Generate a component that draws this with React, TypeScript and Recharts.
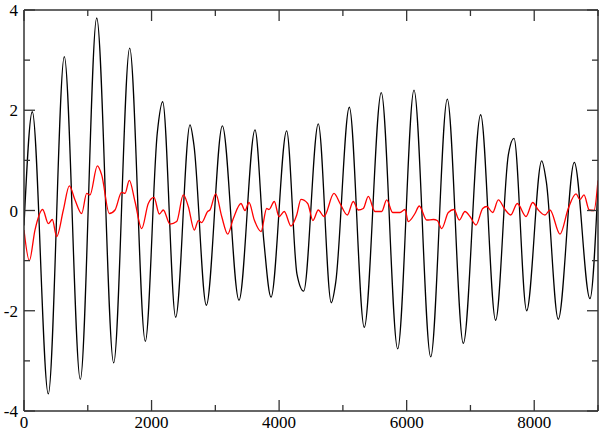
import React from 'react';
import { LineChart, Line, XAxis, YAxis } from 'recharts';

// black series: time / value (peaks, troughs, shoulders)
const blackT = [
  0, 130, 381, 632, 883, 1140, 1406, 1657, 1902, 2090, 2174, 2378, 2603, 2665, 2859,
  3110, 3371, 3622, 3760, 3873, 4118, 4280, 4385, 4614, 4818, 4887, 5101, 5335, 5602,
  5859, 6115, 6377, 6637, 6888, 7160, 7395, 7594, 7683, 7881, 8117, 8190, 8377, 8628,
  8874, 9000,
];
const blackV = [
  -0.3, 1.97, -3.66, 3.07, -3.37, 3.84, -3.04, 3.24, -2.61, 1.55, 2.17, -2.13, 1.71, 1.3, -1.89,
  1.69, -1.79, 1.61, -0.6, -1.73, 1.59, -1.27, -1.61, 1.73, -1.84, -1.44, 2.06, -2.33, 2.35,
  -2.76, 2.4, -2.92, 2.22, -2.65, 1.91, -2.19, 1.11, 1.44, -2.0, 0.99, 0.57, -2.17, 0.96,
  -1.76, 0.5,
];

// red series
const redT = [
  0, 84, 172, 293, 381, 444, 512, 617, 711, 800, 904, 983, 1035, 1150, 1218, 1338, 1427,
  1531, 1584, 1651, 1740, 1845, 1949, 2038, 2122, 2184, 2289, 2394, 2498, 2576, 2670,
  2733, 2786, 2880, 2916, 3006, 3100, 3194, 3282, 3402, 3465, 3528, 3611, 3716, 3805,
  3841, 3925, 3998, 4081, 4186, 4276, 4343, 4448, 4530, 4614, 4704, 4860, 4955, 5069,
  5163, 5242, 5320, 5398, 5503, 5608, 5687, 5781, 5895, 5974, 6025, 6130, 6198, 6314,
  6418, 6480, 6549, 6653, 6742, 6825, 6914, 6993, 7087, 7192, 7255, 7349, 7437, 7542,
  7631, 7735, 7871, 7976, 8064, 8169, 8247, 8404, 8534, 8655, 8717, 8780, 8863, 8937, 9000,
];
const redV = [
  -0.39, -1.0, -0.39, 0.02, -0.26, -0.18, -0.52, 0.01, 0.49, 0.21, -0.06, 0.34, 0.31, 0.89, 0.71, -0.06, 0.01,
  0.36, 0.34, 0.6, 0.18, -0.36, 0.14, 0.26, -0.07, 0.01, -0.27, -0.22, 0.31, 0.08, -0.39,
  -0.2, -0.24, -0.02, 0.01, 0.33, -0.12, -0.47, -0.16, 0.14, 0.0, 0.16, -0.19, -0.42, 0.04,
  0.02, 0.18, -0.12, -0.02, -0.31, -0.09, 0.22, 0.14, -0.2, 0.01, -0.12, 0.34, 0.14, -0.09,
  0.18, 0.01, 0.04, 0.28, -0.02, -0.02, 0.21, -0.04, -0.04, 0.02, -0.22, -0.06, 0.09, -0.19,
  -0.18, -0.2, -0.36, -0.04, 0.02, -0.19, -0.02, -0.12, -0.29, 0.04, 0.08, -0.04, 0.21, 0.02,
  -0.09, 0.14, -0.12, 0.16, 0.01, -0.09, 0.01, -0.47, 0.04, 0.33, 0.22, 0.31, 0.01, 0.0, 0.6,
];

const xTicks = [0, 1000, 2000, 3000, 4000, 5000, 6000, 7000, 8000, 9000];
const yTicks = [-4, -3, -2, -1, 0, 1, 2, 3, 4];

const blackData = blackT.map((t, i) => ({ t, v: blackV[i] }));
const redData = redT.map((t, i) => ({ t, v: redV[i] }));

const SERIF = 'Liberation Serif';
const AXIS = '#333';

const isMajorX = (v: number) => v % 2000 === 0;
const isMajorY = (v: number) => v % 2 === 0;

// ticks point inward, labels only on the major ones
function BottomTick({ x, y, payload }: any) {
  const major = isMajorX(payload.value);
  return (
    <g>
      <line x1={x} x2={x} y1={y} y2={y - (major ? 11 : 6)} stroke={AXIS} strokeWidth={1.3} />
      {major && (
        <text x={x} y={y + 17} textAnchor="middle" fontFamily={SERIF} fontSize={17} fill="#000">
          {payload.value}
        </text>
      )}
    </g>
  );
}

function TopTick({ x, y, payload }: any) {
  const len = isMajorX(payload.value) ? 11 : 6;
  return <line x1={x} x2={x} y1={y} y2={y + len} stroke={AXIS} strokeWidth={1.3} />;
}

function LeftTick({ x, y, payload }: any) {
  const major = isMajorY(payload.value);
  return (
    <g>
      <line x1={x} x2={x + (major ? 11 : 6)} y1={y} y2={y} stroke={AXIS} strokeWidth={1.3} />
      {major && (
        <text x={x - 6} y={y + 6} textAnchor="end" fontFamily={SERIF} fontSize={17} fill="#000">
          {payload.value}
        </text>
      )}
    </g>
  );
}

function RightTick({ x, y, payload }: any) {
  const len = isMajorY(payload.value) ? 11 : 6;
  return <line x1={x} x2={x - len} y1={y} y2={y} stroke={AXIS} strokeWidth={1.3} />;
}

export default function App() {
  const axisLine = { stroke: AXIS, strokeWidth: 1.5 };
  return (
    <div style={{ position: 'absolute', left: 0, top: 0, width: 600, height: 432, background: '#fff' }}>
      <LineChart width={600} height={432} margin={{ top: 0, right: 0, bottom: 0, left: 0 }}>
        <XAxis
          xAxisId="b"
          dataKey="t"
          type="number"
          domain={[0, 9000]}
          ticks={xTicks}
          interval={0}
          allowDataOverflow
          height={21}
          tickSize={0}
          tickMargin={0}
          tickLine={false}
          axisLine={axisLine}
          tick={<BottomTick />}
        />
        <XAxis
          xAxisId="t"
          orientation="top"
          dataKey="t"
          type="number"
          domain={[0, 9000]}
          ticks={xTicks}
          interval={0}
          allowDataOverflow
          height={10}
          tickSize={0}
          tickMargin={0}
          tickLine={false}
          axisLine={axisLine}
          tick={<TopTick />}
        />
        <YAxis
          yAxisId="l"
          type="number"
          domain={[-4, 4]}
          ticks={yTicks}
          interval={0}
          allowDataOverflow
          width={24}
          tickSize={0}
          tickMargin={0}
          tickLine={false}
          axisLine={axisLine}
          tick={<LeftTick />}
        />
        <YAxis
          yAxisId="r"
          orientation="right"
          type="number"
          domain={[-4, 4]}
          ticks={yTicks}
          interval={0}
          allowDataOverflow
          width={2}
          tickSize={0}
          tickMargin={0}
          tickLine={false}
          axisLine={axisLine}
          tick={<RightTick />}
        />
        <Line
          xAxisId="b"
          yAxisId="l"
          data={blackData}
          dataKey="v"
          type="monotone"
          stroke="#000"
          strokeWidth={1.3}
          dot={false}
          isAnimationActive={false}
        />
        <Line
          xAxisId="b"
          yAxisId="l"
          data={redData}
          dataKey="v"
          type="monotone"
          stroke="#ff0000"
          strokeWidth={1.3}
          dot={false}
          isAnimationActive={false}
        />
      </LineChart>
    </div>
  );
}
